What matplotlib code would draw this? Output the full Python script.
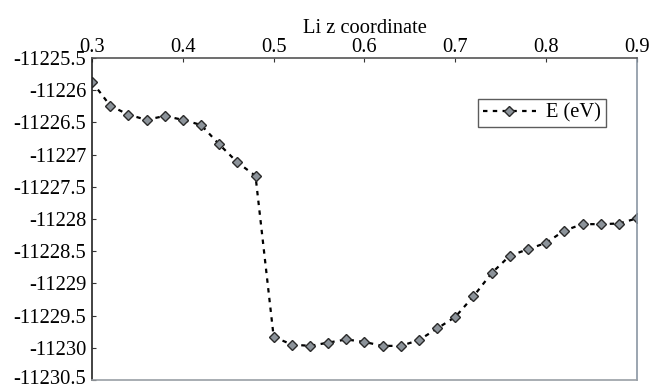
import matplotlib
matplotlib.use("Agg")
import matplotlib.pyplot as plt
import matplotlib.transforms as mtransforms
import numpy as np

# Li z coordinate vs total energy
li_z = [0.30, 0.32, 0.34, 0.36, 0.38, 0.40, 0.42, 0.44, 0.46, 0.48,
        0.50, 0.52, 0.54, 0.56, 0.58, 0.60, 0.62, 0.64, 0.66, 0.68,
        0.70, 0.72, 0.74, 0.76, 0.78, 0.80, 0.82, 0.84, 0.86, 0.88, 0.90]
energy = [-11225.87, -11226.24, -11226.38, -11226.46, -11226.40, -11226.46,
          -11226.54, -11226.84, -11227.12, -11227.33, -11229.83, -11229.95,
          -11229.97, -11229.92, -11229.87, -11229.91, -11229.97, -11229.97,
          -11229.88, -11229.70, -11229.52, -11229.20, -11228.84, -11228.57,
          -11228.47, -11228.37, -11228.18, -11228.08, -11228.08, -11228.07,
          -11227.99]
x_ticks = [0.3, 0.4, 0.5, 0.6, 0.7, 0.8, 0.9]
y_ticks = [-11225.5, -11226, -11226.5, -11227, -11227.5, -11228, -11228.5,
           -11229, -11229.5, -11230, -11230.5]

plt.rcParams['font.family'] = ['Liberation Serif', 'DejaVu Serif']
FS = 14.8

fig = plt.figure(figsize=(6.54, 3.89), dpi=100)
ax = fig.add_axes([92 / 654, 1 - 380 / 389, 545 / 654, 322 / 389])

ax.plot(li_z, energy, color='black', linewidth=1.6, dashes=(2, 2.4),
        marker='D', markersize=5.2, markerfacecolor='#8c939a',
        markeredgecolor='#2a2a2a', markeredgewidth=1.0, label='E (eV)')

ax.set_xlim(0.3, 0.9)
ax.set_ylim(-11230.5, -11225.5)
ax.xaxis.tick_top()
ax.xaxis.set_label_position('top')
ax.set_xticks(x_ticks)
ax.set_xticklabels([f"{v:g}" for v in x_ticks], fontsize=FS)
ax.set_yticks(y_ticks)
ax.set_yticklabels([f"{v:g}" for v in y_ticks], fontsize=FS)
ax.set_xlabel('Li z coordinate', fontsize=FS, labelpad=3)
ax.tick_params(axis='x', direction='in', length=3, pad=1, color='#333333')
ax.tick_params(axis='y', direction='in', length=3, pad=4, color='#333333')

# keep the bottom tick label inside the canvas
last = ax.get_yticklabels()[-1]
last.set_transform(last.get_transform() +
                   mtransforms.ScaledTranslation(0, 3 / 100, fig.dpi_scale_trans))

ax.spines['left'].set_color('#222222')
ax.spines['top'].set_color('#555555')
ax.spines['right'].set_color('#8a96a3')
ax.spines['bottom'].set_color('#9aa0a6')
for s in ax.spines.values():
    s.set_linewidth(1.2)

leg = ax.legend(loc='upper left', bbox_to_anchor=(478 / 654, 1 - 99 / 389),
                bbox_transform=fig.transFigure, fontsize=FS, frameon=True,
                fancybox=False, edgecolor='#333333', handlelength=2.6,
                handletextpad=0.5, borderpad=0.22, borderaxespad=0)
leg.get_frame().set_linewidth(1.0)

fig.savefig('out.png', dpi=100)
